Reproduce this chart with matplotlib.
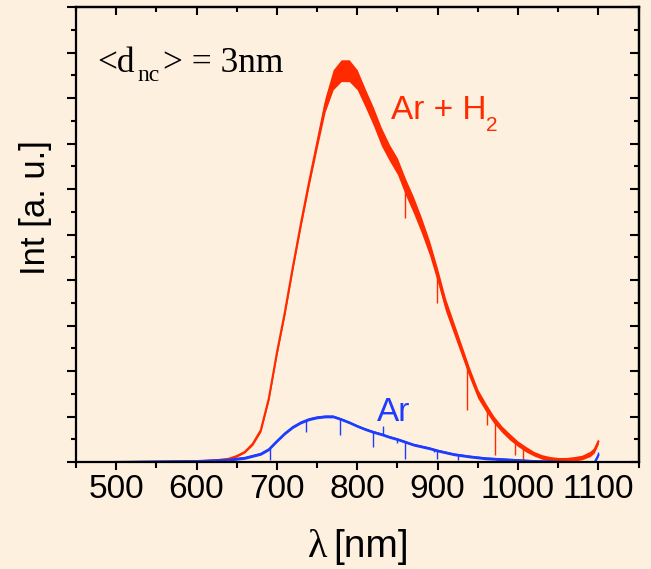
import numpy as np
import matplotlib
matplotlib.use("Agg")
import matplotlib.pyplot as plt
from matplotlib.ticker import MultipleLocator, NullFormatter

# spectra, intensity in arbitrary units
red_wl = [500, 550, 600, 620, 640, 650, 660, 670, 680, 690, 700, 710, 720, 730,
          740, 750, 760, 770, 780, 790, 800, 810, 820, 830, 840, 850, 860, 870,
          880, 890, 900, 910, 920, 930, 940, 950, 960, 970, 980, 990, 1000, 1010,
          1020, 1030, 1040, 1050, 1060, 1070, 1080, 1090, 1095, 1100]
red_int = [0.0, 0.0, 0.01, 0.03, 0.07, 0.13, 0.22, 0.4, 0.7, 1.4, 2.4, 3.3,
           4.3, 5.25, 6.15, 7.0, 7.85, 8.4, 8.6, 8.6, 8.4, 8.0, 7.6, 7.15, 6.8,
           6.5, 6.05, 5.65, 5.2, 4.7, 4.1, 3.45, 2.95, 2.45, 1.95, 1.5, 1.2,
           0.93, 0.72, 0.55, 0.4, 0.28, 0.18, 0.11, 0.07, 0.05, 0.05, 0.07, 0.1,
           0.18, 0.26, 0.45]
# half width of the noise band
red_noise = [0.01, 0.01, 0.01, 0.01, 0.02, 0.02, 0.02, 0.03, 0.04, 0.05, 0.06,
             0.07, 0.07, 0.08, 0.09, 0.11, 0.16, 0.22, 0.24, 0.24, 0.22, 0.2,
             0.2, 0.2, 0.18, 0.18, 0.18, 0.18, 0.17, 0.16, 0.15, 0.14, 0.13, 0.12,
             0.11, 0.1, 0.09, 0.08, 0.07, 0.07, 0.06, 0.06, 0.05, 0.05, 0.05,
             0.05, 0.05, 0.05, 0.05, 0.06, 0.06, 0.06]
red_spikes_wl = [860, 899, 936, 961, 972, 996, 1006]
red_spikes_low = [5.36, 3.5, 1.14, 0.81, 0.15, 0.15, 0.04]

blue_wl = [500, 600, 640, 660, 680, 690, 700, 710, 720, 730, 740, 750, 760, 770,
           780, 790, 800, 810, 820, 830, 840, 850, 860, 870, 880, 890, 900, 910,
           920, 940, 960, 980, 1000, 1020, 1040, 1060, 1080, 1095, 1100]
blue_int = [0.0, 0.02, 0.05, 0.09, 0.18, 0.28, 0.46, 0.63, 0.77, 0.87, 0.94,
            0.98, 1.0, 1.0, 0.94, 0.87, 0.79, 0.72, 0.66, 0.61, 0.55, 0.5, 0.44,
            0.38, 0.34, 0.3, 0.25, 0.21, 0.17, 0.12, 0.08, 0.06, 0.04, 0.02,
            0.01, 0.0, -0.02, -0.02, 0.15]
blue_noise = 0.03
blue_spikes_wl = [691, 736, 779, 820, 832, 849, 860, 895, 899, 925, 974, 1100]
blue_spikes_end = [0.05, 0.65, 0.6, 0.33, 0.8, 0.42, 0.06, 0.23, 0.06, 0.05, 0.0, 0.22]

bg = "#FDF0DF"
red = "#FF2A00"
blue = "#1E3CFF"

W, H = 651, 569
fig = plt.figure(figsize=(W / 100, H / 100), dpi=100, facecolor=bg)
ax = fig.add_axes([76 / W, 1 - 462 / H, 562.5 / W, 455 / H], facecolor=bg)

rw = np.array(red_wl)
ri = np.array(red_int)
rn = np.array(red_noise)
ax.fill_between(rw, ri - rn, ri + rn, color=red, lw=0)
ax.plot(rw, ri, color=red, lw=1.5)
ax.vlines(red_spikes_wl, np.interp(red_spikes_wl, rw, ri), red_spikes_low,
          color=red, lw=1.0)

bw = np.array(blue_wl)
bi = np.array(blue_int)
ax.fill_between(bw, bi - blue_noise, bi + blue_noise, color=blue, lw=0)
ax.plot(bw, bi, color=blue, lw=1.5)
ax.vlines(blue_spikes_wl, np.interp(blue_spikes_wl, bw, bi), blue_spikes_end,
          color=blue, lw=1.0)

ax.set_xlim(450, 1150)
ax.set_ylim(0, 10)
ax.xaxis.set_major_locator(MultipleLocator(100))
ax.xaxis.set_minor_locator(MultipleLocator(50))
ax.yaxis.set_major_locator(MultipleLocator(1))
ax.yaxis.set_minor_locator(MultipleLocator(0.5))
ax.yaxis.set_major_formatter(NullFormatter())

for s in ax.spines.values():
    s.set_linewidth(1.6)

ax.tick_params(which="both", width=1.5, colors="black")
ax.tick_params(axis="x", which="major", direction="out", length=6, pad=3,
               labelsize=24, top=False)
ax.tick_params(axis="x", which="minor", direction="out", length=4, top=False)
ax.tick_params(axis="y", which="major", direction="out", length=6.5, right=False)
ax.tick_params(axis="y", which="minor", direction="out", length=3.5, right=False)
for lab in ax.get_xticklabels():
    lab.set_fontfamily("Liberation Sans")

# mirrored ticks on top and right, pointing inwards
sec_x = ax.secondary_xaxis("top")
sec_x.xaxis.set_major_locator(MultipleLocator(100))
sec_x.xaxis.set_minor_locator(MultipleLocator(50))
sec_x.tick_params(which="major", direction="in", length=6, width=1.5, labeltop=False)
sec_x.tick_params(which="minor", direction="in", length=3.5, width=1.5)
sec_x.spines["top"].set_linewidth(1.6)
sec_y = ax.secondary_yaxis("right")
sec_y.yaxis.set_major_locator(MultipleLocator(1))
sec_y.yaxis.set_minor_locator(MultipleLocator(0.5))
sec_y.tick_params(which="major", direction="in", length=6.5, width=1.5, labelright=False)
sec_y.tick_params(which="minor", direction="in", length=3.5, width=1.5)
sec_y.spines["right"].set_linewidth(1.6)

ax.set_ylabel("Int [a. u.]", fontsize=25, family="Liberation Sans")
ax.yaxis.set_label_coords(-0.043, 0.56)

# axis title: greek lambda in serif, unit in sans
fig.text(308 / W, 1 - 557 / H, "λ", fontsize=29, family="Liberation Serif",
         va="baseline", ha="left")
fig.text(333 / W, 1 - 557 / H, "[nm]", fontsize=28, family="Liberation Sans",
         va="baseline", ha="left")

# <d_nc> = 3nm
fig.text(97 / W, 1 - 72 / H, "<d", fontsize=25.5, family="Liberation Serif",
         va="baseline", ha="left")
fig.text(137 / W, 1 - 81 / H, "nc", fontsize=17, family="Liberation Serif",
         va="baseline", ha="left")
fig.text(163 / W, 1 - 72 / H, "> = 3nm", fontsize=25.5, family="Liberation Serif",
         va="baseline", ha="left")

ax.text(842, 7.54, "Ar + H", fontsize=24, color=red, family="Liberation Sans",
        va="baseline", ha="left")
ax.text(960, 7.28, "2", fontsize=15, color=red, family="Liberation Sans",
        va="baseline", ha="left")
ax.text(825, 0.9, "Ar", fontsize=24, color=blue, family="Liberation Sans",
        va="baseline", ha="left")

fig.savefig("out.png", dpi=100, facecolor=bg)
